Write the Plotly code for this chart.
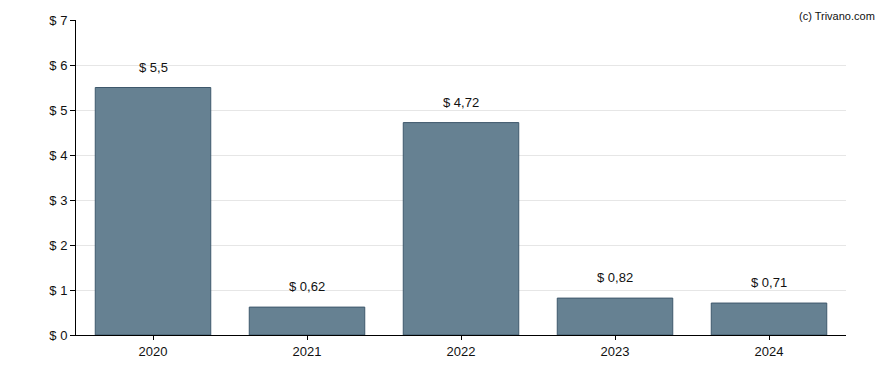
import plotly.graph_objects as go

years = ["2020", "2021", "2022", "2023", "2024"]
values = [5.5, 0.62, 4.72, 0.82, 0.71]
labels = ["$ 5,5", "$ 0,62", "$ 4,72", "$ 0,82", "$ 0,71"]
y_ticks = [0, 1, 2, 3, 4, 5, 6, 7]
y_ticktext = ["$ 0", "$ 1", "$ 2", "$ 3", "$ 4", "$ 5", "$ 6", "$ 7"]

FONT = "Liberation Sans, Arial, sans-serif"

fig = go.Figure()
fig.add_trace(go.Bar(
    x=years, y=values,
    marker=dict(color="rgb(102,129,146)", line=dict(color="rgb(62,88,108)", width=1)),
    width=0.75,
    hoverinfo="skip",
))
for i, (yv, t) in enumerate(zip(values, labels)):
    fig.add_annotation(x=i, y=yv, text=t, showarrow=False, yanchor="bottom",
                       yshift=11, font=dict(family=FONT, size=13, color="#111"))

fig.add_annotation(xref="paper", yref="paper", x=1.0, y=1.0, xanchor="right", yanchor="top",
                   xshift=31, yshift=12, text="(c) Trivano.com", showarrow=False,
                   font=dict(family=FONT, size=11, color="#111"))

fig.update_layout(
    width=888, height=370,
    margin=dict(l=68, r=50, t=12, b=43, autoexpand=False),
    plot_bgcolor="white", paper_bgcolor="white",
    showlegend=False,
    font=dict(family=FONT, size=13, color="#111"),
)
fig.update_xaxes(type="category", range=[-0.5, 4.5], showline=True, linecolor="black",
                 linewidth=1, ticks="outside", ticklen=4, tickcolor="black",
                 showgrid=False, tickfont=dict(size=13))
fig.update_yaxes(range=[0, 7], tickvals=y_ticks, ticktext=y_ticktext, showline=True,
                 linecolor="black", linewidth=1, ticks="outside", ticklen=5, tickcolor="black",
                 showgrid=True, gridcolor="#e6e6e6", zeroline=False, tickfont=dict(size=13))

fig.write_html("out.html")
